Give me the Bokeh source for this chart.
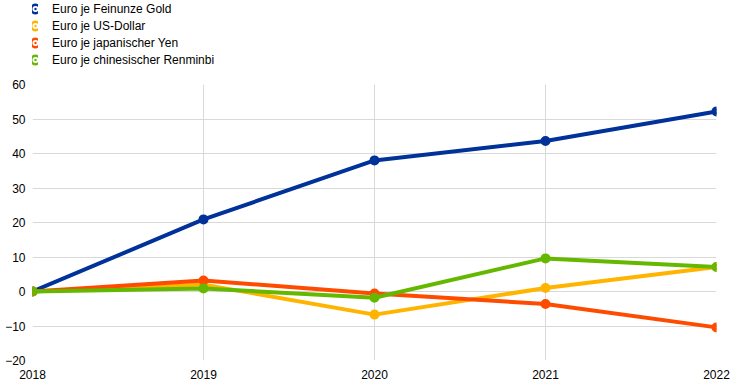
from bokeh.plotting import figure
from bokeh.models import Legend, LegendItem, Range1d, FixedTicker
from bokeh.layouts import column
from bokeh.embed import file_html
from bokeh.resources import INLINE

years = [2018, 2019, 2020, 2021, 2022]
gold = [0.0, 20.9, 38.0, 43.6, 52.2]
usd = [0.0, 2.0, -6.7, 1.0, 7.1]
jpy = [0.0, 3.2, -0.6, -3.6, -10.4]
cny = [0.0, 0.9, -1.8, 9.6, 7.1]

series = [
    ("Euro je Feinunze Gold", gold, "#003299"),
    ("Euro je US-Dollar", usd, "#FFB400"),
    ("Euro je japanischer Yen", jpy, "#FF4B00"),
    ("Euro je chinesischer Renminbi", cny, "#65B800"),
]
y_ticks = [-20, -10, 0, 10, 20, 30, 40, 50, 60]

FONT = "Liberation Sans"

# --- legend strip (its data lies outside its own visible range, so only the legend shows) ---
lg = figure(width=736, height=76, output_backend="svg", toolbar_location=None,
            x_range=Range1d(2018, 2022), y_range=Range1d(1000, 1001),
            x_axis_location=None, y_axis_location=None,
            min_border_left=23, min_border_right=0, min_border_top=0, min_border_bottom=0)
lg.outline_line_color = None
lg.xgrid.visible = False
lg.ygrid.visible = False

# --- main chart ---
p = figure(width=736, height=307, output_backend="svg", toolbar_location=None,
           x_range=Range1d(2018, 2022), y_range=Range1d(-20, 60),
           min_border_left=32, min_border_right=20, min_border_top=8, min_border_bottom=23)
p.outline_line_color = None
p.background_fill_color = "white"

items = []
for label, vals, color in series:
    p.line(years, vals, line_color=color, line_width=4)
    p.scatter(years, vals, size=6, fill_color=color, line_color=color, line_width=4)
    d = lg.scatter(years, vals, size=6, fill_color=color, line_color=color, line_width=8.5)
    items.append(LegendItem(label=label, renderers=[d]))

for ax in (p.xaxis[0], p.yaxis[0]):
    ax.axis_line_color = None
    ax.major_tick_line_color = None
    ax.minor_tick_line_color = None
    ax.major_tick_out = 0
    ax.major_tick_in = 0
    ax.minor_tick_out = 0
    ax.minor_tick_in = 0
    ax.major_label_text_font = FONT
    ax.major_label_text_font_size = "12px"
    ax.major_label_text_color = "#000000"

p.xaxis[0].major_label_standoff = 9
p.yaxis[0].major_label_standoff = 7

p.xaxis[0].ticker = FixedTicker(ticks=years)
p.yaxis[0].ticker = FixedTicker(ticks=y_ticks)
p.xgrid[0].ticker = FixedTicker(ticks=years)
p.ygrid[0].ticker = FixedTicker(ticks=y_ticks)
p.xgrid.grid_line_color = "#d9d9d9"
p.ygrid.grid_line_color = "#d9d9d9"

legend = Legend(items=items, location="top_left", padding=0, margin=0, spacing=0,
                glyph_width=6, glyph_height=17, label_height=17, label_standoff=14,
                label_text_font=FONT, label_text_font_size="12px", label_text_color="#000000",
                background_fill_alpha=0, border_line_color=None)
lg.add_layout(legend, "center")

layout = column(lg, p, spacing=0)
open("out.html", "w").write(file_html(layout, INLINE))
